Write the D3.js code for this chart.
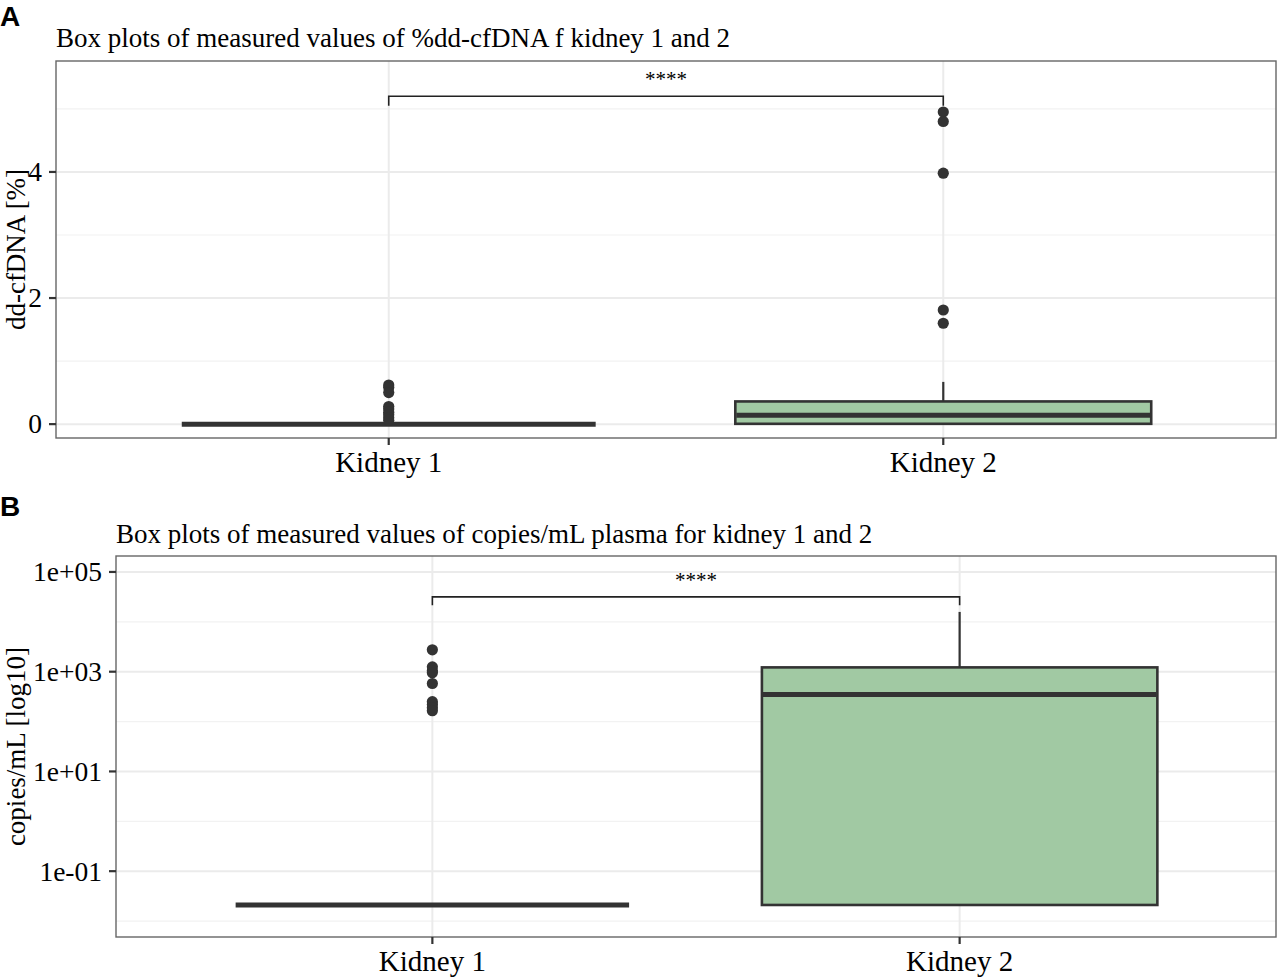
<!DOCTYPE html>
<html>
<head>
<meta charset="utf-8">
<script src="https://cdn.jsdelivr.net/npm/d3@7"></script>
<style>
  body { margin: 0; background: #fff; }
  text { font-family: "Liberation Serif", "Times New Roman", serif; fill: #000; }
</style>
</head>
<body>
<div id="chart"></div>
<script>
// categories
var groups = ["Kidney 1", "Kidney 2"];

// panel A: %dd-cfDNA box stats
var pctQ1 = [0, 0.005];
var pctMedian = [0, 0.14];
var pctQ3 = [0, 0.36];
var pctWhiskLow = [0, 0];
var pctWhiskHigh = [0, 0.67];
var pctOutliers = [
  [0.62, 0.58, 0.5, 0.28, 0.24, 0.19, 0.15, 0.1, 0.06],
  [4.95, 4.8, 3.98, 1.81, 1.6]
];
var pctTicks = [0, 2, 4];
var pctMinor = [1, 3, 5];

// panel B: copies/mL box stats
var cpQ1 = [0.021, 0.021];
var cpMedian = [0.021, 350];
var cpQ3 = [0.021, 1220];
var cpWhiskLow = [0.021, 0.021];
var cpWhiskHigh = [0.021, 15800];
var cpOutliers = [
  [2750, 1250, 1050, 950, 580, 250, 220, 190, 165],
  []
];
var cpTicks = [1e-1, 1e1, 1e3, 1e5];
var cpTickLabels = ["1e-01", "1e+01", "1e+03", "1e+05"];
var cpMinor = [1e-2, 1e0, 1e2, 1e4];

var svgWidth = 1281;
var svgHeight = 979;

var svg = d3.select("#chart")
  .append("svg")
  .attr("width", svgWidth)
  .attr("height", svgHeight);

svg.append("rect")
  .attr("width", svgWidth)
  .attr("height", svgHeight)
  .attr("fill", "#fff");

function drawPanel(p) {
  var width = p.right - p.left;
  var height = p.bottom - p.top;

  var g = svg.append("g")
    .attr("transform", `translate(${p.left}, ${p.top})`);

  // ggplot-style discrete axis: 0.6 units each side of outer categories
  var x = d3.scalePoint()
    .domain(groups)
    .range([0, width])
    .padding(0.6);
  var unit = x.step();
  var xc = d => x(d);
  var boxW = 0.75 * unit;

  var y = p.y.range([height, 0]);

  // grid
  g.selectAll(".minor")
    .data(p.minor)
    .enter()
    .append("line")
    .attr("x1", 0).attr("x2", width)
    .attr("y1", d => y(d)).attr("y2", d => y(d))
    .attr("stroke", "#f2f2f2")
    .attr("stroke-width", 1.2);

  g.selectAll(".major")
    .data(p.ticks)
    .enter()
    .append("line")
    .attr("x1", 0).attr("x2", width)
    .attr("y1", d => y(d)).attr("y2", d => y(d))
    .attr("stroke", "#ebebeb")
    .attr("stroke-width", 2);

  g.selectAll(".vgrid")
    .data(groups)
    .enter()
    .append("line")
    .attr("x1", d => xc(d)).attr("x2", d => xc(d))
    .attr("y1", 0).attr("y2", height)
    .attr("stroke", "#ebebeb")
    .attr("stroke-width", 2);

  // whiskers
  groups.forEach(function (grp, i) {
    g.append("line")
      .attr("x1", xc(grp)).attr("x2", xc(grp))
      .attr("y1", y(p.q3[i])).attr("y2", y(p.whiskHigh[i]))
      .attr("stroke", "#333").attr("stroke-width", 2.2);
    g.append("line")
      .attr("x1", xc(grp)).attr("x2", xc(grp))
      .attr("y1", y(p.q1[i])).attr("y2", y(p.whiskLow[i]))
      .attr("stroke", "#333").attr("stroke-width", 2.2);
  });

  // boxes
  g.selectAll(".box")
    .data(groups)
    .enter()
    .append("rect")
    .attr("x", d => xc(d) - boxW / 2)
    .attr("width", boxW)
    .attr("y", (d, i) => y(p.q3[i]))
    .attr("height", (d, i) => Math.max(0, y(p.q1[i]) - y(p.q3[i])))
    .attr("fill", "#a1c9a3")
    .attr("stroke", "#333")
    .attr("stroke-width", 2.6);

  g.selectAll(".median")
    .data(groups)
    .enter()
    .append("line")
    .attr("x1", d => xc(d) - boxW / 2 + 1)
    .attr("x2", d => xc(d) + boxW / 2 - 1)
    .attr("y1", (d, i) => y(p.median[i]))
    .attr("y2", (d, i) => y(p.median[i]))
    .attr("stroke", "#333")
    .attr("stroke-width", 5);

  // outliers
  groups.forEach(function (grp, i) {
    g.selectAll(".out" + i)
      .data(p.outliers[i])
      .enter()
      .append("circle")
      .attr("cx", xc(grp))
      .attr("cy", d => y(d))
      .attr("r", 5.6)
      .attr("fill", "#333");
  });

  // significance bracket
  var bx1 = xc(groups[0]), bx2 = xc(groups[1]);
  g.append("path")
    .attr("d", `M${bx1},${y(p.bracketTip)}V${y(p.bracket)}H${bx2}V${y(p.bracketTip)}`)
    .attr("fill", "none")
    .attr("stroke", "#222")
    .attr("stroke-width", 1.6);
  g.append("text")
    .attr("x", (bx1 + bx2) / 2)
    .attr("y", y(p.bracket) - 10)
    .attr("text-anchor", "middle")
    .style("font-size", "21px")
    .text("****");

  // panel border
  g.append("rect")
    .attr("width", width)
    .attr("height", height)
    .attr("fill", "none")
    .attr("stroke", "#666")
    .attr("stroke-width", 1.4);

  // y axis ticks + labels
  p.ticks.forEach(function (t, i) {
    g.append("line")
      .attr("x1", -7).attr("x2", 0)
      .attr("y1", y(t)).attr("y2", y(t))
      .attr("stroke", "#333").attr("stroke-width", 2.2);
    g.append("text")
      .attr("x", -14)
      .attr("y", y(t))
      .attr("dy", "0.34em")
      .attr("text-anchor", "end")
      .style("font-size", "27.5px")
      .text(p.tickLabels[i]);
  });

  // x axis ticks + labels
  groups.forEach(function (grp) {
    g.append("line")
      .attr("x1", xc(grp)).attr("x2", xc(grp))
      .attr("y1", height).attr("y2", height + 7)
      .attr("stroke", "#333").attr("stroke-width", 2.2);
    g.append("text")
      .attr("x", xc(grp))
      .attr("y", height + 34)
      .attr("text-anchor", "middle")
      .style("font-size", "29px")
      .text(grp);
  });

  // title
  svg.append("text")
    .attr("x", p.left)
    .attr("y", p.titleY)
    .style("font-size", "27px")
    .text(p.title);

  // y label
  svg.append("text")
    .attr("transform", `translate(25, ${p.top + height / 2}) rotate(-90)`)
    .attr("text-anchor", "middle")
    .style("font-size", "27px")
    .text(p.yLabel);

  // panel letter
  svg.append("text")
    .attr("x", 0)
    .attr("y", p.letterY)
    .style("font-family", "'Liberation Sans', Arial, sans-serif")
    .style("font-weight", "bold")
    .style("font-size", "28px")
    .text(p.letter);
}

drawPanel({
  left: 56, right: 1276, top: 61, bottom: 438,
  y: d3.scaleLinear().domain([-0.22, 5.76]),
  q1: pctQ1, median: pctMedian, q3: pctQ3,
  whiskLow: pctWhiskLow, whiskHigh: pctWhiskHigh,
  outliers: pctOutliers,
  ticks: pctTicks, tickLabels: pctTicks.map(String), minor: pctMinor,
  bracket: 5.2, bracketTip: 5.05,
  title: "Box plots of measured values of %dd-cfDNA f kidney 1 and 2",
  titleY: 47,
  yLabel: "dd-cfDNA [%]",
  letter: "A", letterY: 26
});

drawPanel({
  left: 116, right: 1276, top: 556, bottom: 937,
  y: d3.scaleLog().domain([Math.pow(10, -2.32), Math.pow(10, 5.32)]),
  q1: cpQ1, median: cpMedian, q3: cpQ3,
  whiskLow: cpWhiskLow, whiskHigh: cpWhiskHigh,
  outliers: cpOutliers,
  ticks: cpTicks, tickLabels: cpTickLabels, minor: cpMinor,
  bracket: Math.pow(10, 4.5), bracketTip: Math.pow(10, 4.33),
  title: "Box plots of measured values of copies/mL plasma for kidney 1 and 2",
  titleY: 543,
  yLabel: "copies/mL [log10]",
  letter: "B", letterY: 516
});
</script>
</body>
</html>
